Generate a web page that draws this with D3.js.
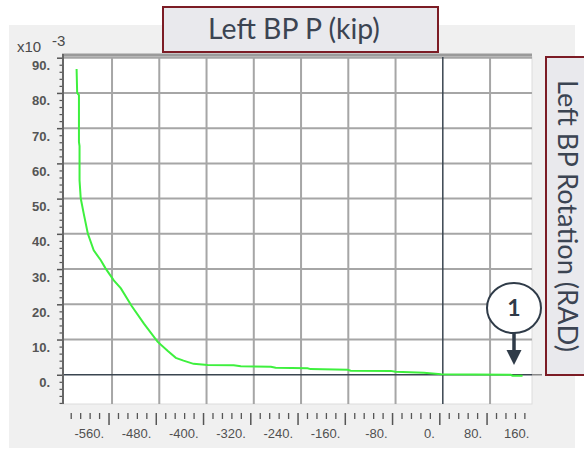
<!DOCTYPE html>
<html><head><meta charset="utf-8">
<script src="https://cdn.jsdelivr.net/npm/d3@7"></script>
<style>html,body{margin:0;padding:0;background:#fff;}svg{display:block;}</style>
</head><body>
<script>
// ---- data ----
const curveX = [-620,-619,-616,-616,-615,-615,-613,-608,-601,-591,-579,-571,-557,-545,-527,-506,-483,-466,-452,-439,-422,-398,-354,-342,-291,-283,-229,-224,-161,-156,-88,-80,-32,-3,115,118,135];
const curveY = [86.8,80.0,79.4,66.1,64.9,55.2,50.1,45.8,40.1,35.3,32.5,30.2,26.8,24.5,19.6,14.5,9.4,6.8,4.8,4.0,3.1,2.8,2.7,2.4,2.3,2.0,1.85,1.6,1.4,1.15,1.1,0.85,0.57,0.14,0,-0.28,-0.28];
const xMajorTicks = [-560,-480,-400,-320,-240,-160,-80,0,80,160];
const xTickLabels = ["-560.","-480.","-400.","-320.","-240.","-160.","-80.","0.","80.","160."];
const yMajorTicks = [0,10,20,30,40,50,60,70,80,90];
const yTickLabels = ["0.","10.","20.","30.","40.","50.","60.","70.","80.","90."];
const titleText = "Left BP P (kip)";
const rightTitleText = "Left BP Rotation (RAD)";
const exponentBase = "x10";
const exponentPow = "-3";
const markerLabel = "1";

// ---- layout ----
const W = 584, H = 450;
const L = 63, R = 532, T = 57, B = 404;
const svg = d3.select("body").append("svg").attr("width", W).attr("height", H);
const x = d3.scaleLinear().domain([-643, 151]).range([L, R]);
const y = d3.scaleLinear().domain([-8.3, 90.2]).range([B, T]);

// panel background
svg.append("rect").attr("x", 9).attr("y", 25).attr("width", 566).attr("height", 423).attr("fill", "#f0f0f0");
// plot area
svg.append("rect").attr("x", L).attr("y", T).attr("width", R - L).attr("height", B - T).attr("fill", "#fff")
  .attr("stroke", "#dcdcdc").attr("stroke-width", 1);

// grid
const gridX = xMajorTicks.filter(v => v !== 0 && x(v) < R);
svg.append("g").selectAll("line").data(gridX).join("line")
  .attr("x1", d => x(d)).attr("x2", d => x(d)).attr("y1", T).attr("y2", B)
  .attr("stroke", "#a6a6a6").attr("stroke-width", 2);
const gridY = yMajorTicks.filter(v => v !== 0);
svg.append("g").selectAll("line").data(gridY).join("line")
  .attr("x1", L).attr("x2", R).attr("y1", d => y(d)).attr("y2", d => y(d))
  .attr("stroke", "#a6a6a6").attr("stroke-width", 2);

// zero lines
svg.append("line").attr("x1", R).attr("x2", 542).attr("y1", y(0)).attr("y2", y(0))
  .attr("stroke", "#8a8a8a").attr("stroke-width", 1.5);
svg.append("line").attr("x1", L).attr("x2", R).attr("y1", y(0)).attr("y2", y(0))
  .attr("stroke", "#3a4550").attr("stroke-width", 1.5);
svg.append("line").attr("x1", x(0)).attr("x2", x(0)).attr("y1", T).attr("y2", B)
  .attr("stroke", "#3a4550").attr("stroke-width", 1.5);

// plot top border
svg.append("line").attr("x1", L - 1).attr("x2", R).attr("y1", T - 2).attr("y2", T - 2)
  .attr("stroke", "#9a9a9a").attr("stroke-width", 3);

// curve
const pts = curveX.map((v, i) => [v, curveY[i]]);
svg.append("path").datum(pts)
  .attr("d", d3.line().x(d => x(d[0])).y(d => y(d[1])))
  .attr("fill", "none").attr("stroke", "#3ef03e").attr("stroke-width", 2);

// y axis
const yMinor = d3.range(-8, 91, 2).filter(v => v % 10 !== 0);
const yAxMinor = svg.append("g").attr("transform", `translate(${L},0)`)
  .call(d3.axisLeft(y).tickValues(yMinor).tickSize(3.5).tickFormat(""));
yAxMinor.select(".domain").remove();
yAxMinor.selectAll("line").attr("stroke", "#555").attr("stroke-width", 1.2);
const yAx = svg.append("g").attr("transform", `translate(${L},0)`)
  .call(d3.axisLeft(y).tickValues(yMajorTicks).tickSize(6).tickPadding(0)
    .tickFormat((d, i) => yTickLabels[i]));
yAx.select(".domain").remove();
yAx.selectAll("line").attr("stroke", "#555").attr("stroke-width", 1.5);
yAx.selectAll("text").attr("x", -13).attr("dy", "0").attr("y", 12)
  .attr("fill", "#555").style("font-family", "'Liberation Sans', Arial, sans-serif")
  .style("font-size", "13px").style("font-weight", "bold");
svg.append("line").attr("x1", L).attr("x2", L).attr("y1", T - 3).attr("y2", B)
  .attr("stroke", "#666").attr("stroke-width", 2);

// exponent
svg.append("text").attr("x", 17).attr("y", 52).text(exponentBase)
  .attr("fill", "#4a4a4a").style("font-family", "'Liberation Sans', Arial, sans-serif").style("font-size", "15px");
svg.append("text").attr("x", 52).attr("y", 46).text(exponentPow)
  .attr("fill", "#4a4a4a").style("font-family", "'Liberation Sans', Arial, sans-serif").style("font-size", "15px");

// x axis tick row (offset slightly left of the grid, as in the reference)
const xMinor = d3.range(-624, 150, 16).filter(v => v % 80 !== 0);
const xAxMinor = svg.append("g").attr("transform", `translate(-3.5,413)`)
  .call(d3.axisBottom(x).tickValues(xMinor).tickSize(6).tickFormat(""));
xAxMinor.select(".domain").remove();
xAxMinor.selectAll("line").attr("y1", 0).attr("y2", 6).attr("stroke", "#555").attr("stroke-width", 1.3);
const xAx = svg.append("g").attr("transform", `translate(-3.5,413)`)
  .call(d3.axisBottom(x).tickValues(xMajorTicks).tickSize(12).tickPadding(0)
    .tickFormat((d, i) => xTickLabels[i]));
xAx.select(".domain").remove();
xAx.selectAll(".tick").filter(d => x(d) > R).select("line").remove();
xAx.selectAll("line").attr("stroke", "#555").attr("stroke-width", 1.5);
xAx.selectAll("text").attr("text-anchor", "end").attr("x", -5).attr("y", 25).attr("dy", "0")
  .attr("fill", "#505050").style("font-family", "'Liberation Sans', Arial, sans-serif").style("font-size", "13px");

// title box
svg.append("rect").attr("x", 163).attr("y", 7).attr("width", 275).attr("height", 45)
  .attr("fill", "#e9e9ed").attr("stroke", "#7c1c25").attr("stroke-width", 2);
const tt = svg.append("text").attr("x", 294).attr("y", 39).attr("text-anchor", "middle").text(titleText)
  .attr("fill", "#3b4452").style("font-family", "Lato, 'Open Sans', sans-serif").style("font-size", "26px");
{ const w = tt.node().getComputedTextLength(); tt.style("font-size", (26 * 172 / w) + "px"); }

// right title box
svg.append("rect").attr("x", 546).attr("y", 57).attr("width", 60).attr("height", 318)
  .attr("fill", "#e9e9ed").attr("stroke", "#7c1c25").attr("stroke-width", 2);
const rt = svg.append("text").attr("transform", "translate(558,216) rotate(90)").attr("text-anchor", "middle")
  .text(rightTitleText).attr("fill", "#3b4452")
  .style("font-family", "Lato, 'Open Sans', sans-serif").style("font-size", "25px");
{ const w = rt.node().getComputedTextLength(); rt.style("font-size", (25 * 272 / w) + "px"); }

// marker annotation
svg.append("ellipse").attr("cx", 514).attr("cy", 308).attr("rx", 27).attr("ry", 25)
  .attr("fill", "#fff").attr("stroke", "#2f3b48").attr("stroke-width", 2);
svg.append("text").attr("x", 514).attr("y", 316).attr("text-anchor", "middle").text(markerLabel)
  .attr("fill", "#2f3b48").style("font-family", "Lato, sans-serif").style("font-size", "23px").style("font-weight", "bold");
svg.append("line").attr("x1", 514).attr("x2", 514).attr("y1", 333).attr("y2", 352)
  .attr("stroke", "#2f3b48").attr("stroke-width", 3.5);
svg.append("path").attr("d", "M506.5,350 L521.5,350 L514,365 Z").attr("fill", "#2f3b48");
</script>
</body></html>
